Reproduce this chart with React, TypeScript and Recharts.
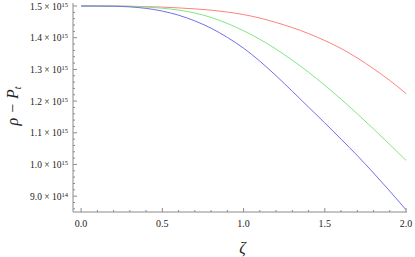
import React from 'react';
import { LineChart, Line, XAxis, YAxis } from 'recharts';

// ζ values
const zeta = [0, 0.1, 0.2, 0.3, 0.4, 0.5, 0.6, 0.7, 0.8, 0.9, 1.0, 1.1, 1.2, 1.3, 1.4, 1.5, 1.6, 1.7, 1.8, 1.9, 2.0];
// ρ − P_t in units of 10^15
const redSeries = [1.5, 1.5, 1.4999, 1.4993, 1.498, 1.4965, 1.494, 1.491, 1.487, 1.481, 1.473, 1.462, 1.448, 1.432, 1.413, 1.391, 1.366, 1.336, 1.302, 1.265, 1.224];
const greenSeries = [1.5, 1.5, 1.4997, 1.4988, 1.4968, 1.493, 1.487, 1.478, 1.464, 1.445, 1.422, 1.395, 1.364, 1.329, 1.291, 1.25, 1.206, 1.16, 1.112, 1.063, 1.013];
const blueSeries = [1.5, 1.4999, 1.4993, 1.4972, 1.4925, 1.484, 1.471, 1.453, 1.43, 1.401, 1.367, 1.326, 1.28, 1.231, 1.181, 1.131, 1.08, 1.028, 0.973, 0.916, 0.857];

const xTicks = [0, 0.1, 0.2, 0.3, 0.4, 0.5, 0.6, 0.7, 0.8, 0.9, 1.0, 1.1, 1.2, 1.3, 1.4, 1.5, 1.6, 1.7, 1.8, 1.9, 2.0];
const xMajor = [0, 0.5, 1.0, 1.5, 2.0];
const yTicks = [0.86, 0.88, 0.9, 0.92, 0.94, 0.96, 0.98, 1.0, 1.02, 1.04, 1.06, 1.08, 1.1, 1.12, 1.14, 1.16, 1.18, 1.2, 1.22, 1.24, 1.26, 1.28, 1.3, 1.32, 1.34, 1.36, 1.38, 1.4, 1.42, 1.44, 1.46, 1.48, 1.5];
const yMajor = [0.9, 1.0, 1.1, 1.2, 1.3, 1.4, 1.5];
const yMajorLabels = ['9.0', '1.0', '1.1', '1.2', '1.3', '1.4', '1.5'];
const yMajorExp = ['14', '15', '15', '15', '15', '15', '15'];

const data = zeta.map((z, i) => ({ z, red: redSeries[i], green: greenSeries[i], blue: blueSeries[i] }));

const FRAME = '#8a8a8a';
const FONT = '"Liberation Serif", "DejaVu Serif", serif';

const isIn = (arr: number[], v: number) => arr.findIndex((a) => Math.abs(a - v) < 1e-6);

const makeXTick = (side: 'bottom' | 'top') => (props: any) => {
  const { x, y, payload } = props;
  const v = payload.value as number;
  const mi = isIn(xMajor, v);
  const major = mi >= 0;
  const len = major ? 4 : 2;
  const dir = side === 'bottom' ? -1 : 1;
  return (
    <g>
      <line x1={x} x2={x} y1={y} y2={y + dir * len} stroke={FRAME} strokeWidth={1} />
      {side === 'bottom' && major && (
        <text x={x} y={y + 15} textAnchor="middle" fontSize={10} fontFamily={FONT} fill="#222">
          {v.toFixed(1)}
        </text>
      )}
    </g>
  );
};

const makeYTick = (side: 'left' | 'right') => (props: any) => {
  const { x, y, payload } = props;
  const v = payload.value as number;
  const mi = isIn(yMajor, v);
  const major = mi >= 0;
  const len = major ? 4 : 2;
  const dir = side === 'left' ? 1 : -1;
  return (
    <g>
      <line x1={x} x2={x + dir * len} y1={y} y2={y} stroke={FRAME} strokeWidth={1} />
      {side === 'left' && major && (
        <text x={x - 5} y={y + 3.5} textAnchor="end" fontSize={9.5} fontFamily={FONT} fill="#222">
          <tspan>{yMajorLabels[mi] + ' \u00d7 10'}</tspan>
          <tspan dy={-3} fontSize={6.5}>{yMajorExp[mi]}</tspan>
        </text>
      )}
    </g>
  );
};

export default function App() {
  return (
    <div style={{ position: 'absolute', left: 0, top: 0, width: 415, height: 257, background: '#fff' }}>
      <LineChart width={415} height={257} data={data} margin={{ top: 3, right: 8, bottom: 0, left: 0 }}>
        <XAxis
          dataKey="z"
          type="number"
          domain={[-0.05, 2.006]}
          allowDataOverflow
          ticks={xTicks}
          interval={0}
          tickSize={0}
          tickMargin={0}
          tickLine={false}
          axisLine={{ stroke: FRAME }}
          tick={makeXTick('bottom')}
          height={45}
          label={{
            content: () => (
              <text x={242.5} y={253} textAnchor="middle" fontSize={16} fontStyle="italic" fontFamily={FONT} fill="#222">
                ζ
              </text>
            ),
          }}
        />
        <XAxis
          xAxisId="top"
          orientation="top"
          dataKey="z"
          type="number"
          domain={[-0.05, 2.006]}
          allowDataOverflow
          ticks={xTicks}
          interval={0}
          tickSize={0}
          tickMargin={0}
          tickLine={false}
          axisLine={{ stroke: FRAME }}
          tick={makeXTick('top')}
          height={0}
        />
        <YAxis
          type="number"
          domain={[0.85, 1.5095]}
          allowDataOverflow
          ticks={yTicks}
          interval={0}
          tickSize={0}
          tickMargin={0}
          tickLine={false}
          axisLine={{ stroke: FRAME }}
          tick={makeYTick('left')}
          width={73}
          label={{
            content: () => (
              <text
                x={18}
                y={106}
                transform="rotate(-90, 18, 106)"
                textAnchor="middle"
                fontSize={16}
                fontStyle="italic"
                fontFamily={FONT}
                fill="#222"
              >
                <tspan>ρ − P</tspan>
                <tspan dy={3} fontSize={10}>t</tspan>
              </text>
            ),
          }}
        />
        <YAxis
          yAxisId="right"
          orientation="right"
          type="number"
          domain={[0.85, 1.5095]}
          allowDataOverflow
          ticks={yTicks}
          interval={0}
          tickSize={0}
          tickMargin={0}
          tickLine={false}
          axisLine={{ stroke: FRAME }}
          tick={makeYTick('right')}
          width={0}
        />
        <Line type="monotone" dataKey="red" stroke="#ff8080" strokeWidth={1} dot={false} isAnimationActive={false} />
        <Line type="monotone" dataKey="green" stroke="#7fe87f" strokeWidth={1} dot={false} isAnimationActive={false} />
        <Line type="monotone" dataKey="blue" stroke="#7070f0" strokeWidth={1} dot={false} isAnimationActive={false} />
      </LineChart>
    </div>
  );
}
